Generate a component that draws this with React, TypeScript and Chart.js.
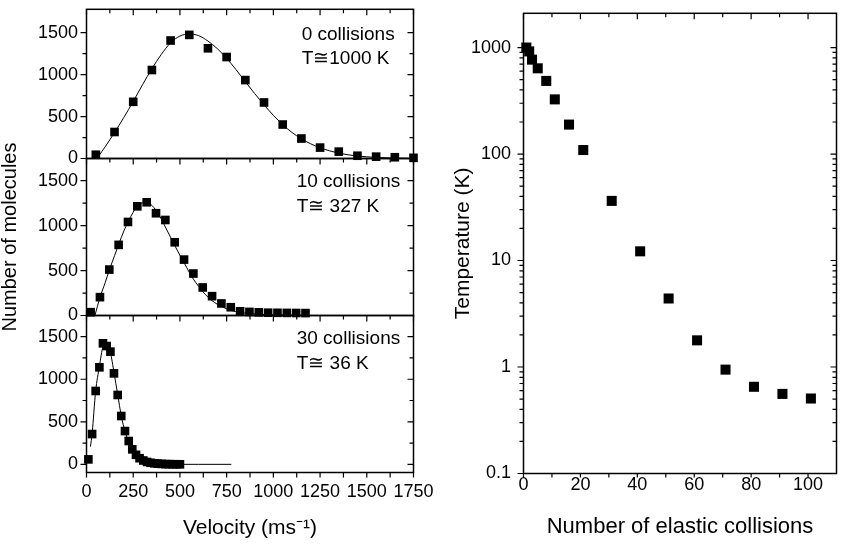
import React, { useEffect, useRef } from 'react';
import { Chart, registerables } from 'chart.js';

Chart.register(...registerables);

const W = 853;
const H = 544;
const OFF = 10;
const FONT = "'Liberation Sans', Arial, Helvetica, sans-serif";

// ---- Top panel: 0 collisions, T ~ 1000 K ----
const topVel = [50, 150, 250, 350, 450, 550, 650, 750, 850, 950, 1050, 1150, 1250, 1350, 1450, 1550, 1650, 1750];
const topCount = [45, 316, 676, 1055, 1407, 1474, 1314, 1210, 935, 668, 405, 238, 130, 82, 33, 22, 15, 8];
const topFitVel = [65, 100, 150, 200, 250, 300, 350, 400, 450, 500, 550, 600, 650, 700, 750, 800, 850, 900, 950, 1000, 1050, 1100, 1150, 1200, 1250, 1300, 1350, 1400, 1450, 1500, 1550, 1650, 1750];
const topFitCount = [30, 140, 310, 490, 680, 880, 1070, 1240, 1380, 1460, 1485, 1465, 1400, 1310, 1195, 1060, 915, 775, 640, 515, 405, 310, 235, 175, 128, 92, 64, 44, 30, 20, 13, 5, 2];

// ---- Middle panel: 10 collisions, T ~ 327 K ----
const midVel = [22, 72, 122, 172, 222, 272, 322, 372, 422, 472, 522, 572, 622, 672, 722, 772, 822, 872, 922, 972, 1022, 1072, 1122, 1172];
const midCount = [37, 204, 511, 786, 1041, 1215, 1260, 1138, 1063, 815, 622, 467, 312, 215, 134, 92, 47, 40, 35, 31, 30, 29, 28, 27];
const midFitVel = [45, 72, 100, 122, 150, 172, 200, 222, 250, 272, 300, 322, 350, 372, 400, 422, 450, 472, 500, 522, 550, 572, 600, 622, 650, 672, 700, 722, 772, 822, 872, 922, 1000, 1100, 1180];
const midFitCount = [0, 200, 365, 505, 665, 790, 940, 1040, 1150, 1215, 1255, 1262, 1225, 1170, 1075, 985, 870, 780, 670, 590, 480, 405, 325, 265, 205, 165, 125, 100, 58, 35, 22, 14, 7, 3, 1];

// ---- Bottom panel: 30 collisions, T ~ 36 K ----
const botVel = [10, 30, 49, 69, 88, 108, 128, 147, 167, 186, 206, 226, 245, 265, 284, 304, 324, 343, 363, 382, 402, 422, 441, 461, 480, 500];
const botCount = [58, 356, 862, 1140, 1422, 1390, 1324, 1069, 815, 568, 391, 274, 176, 112, 72, 45, 28, 18, 12, 8, 5, 3, 2, 1, 1, 0];
const botFitVel = [21, 30, 49, 69, 88, 100, 108, 128, 147, 167, 186, 206, 226, 245, 265, 285, 305, 330, 360, 400, 450, 500, 600, 775];
const botFitCount = [207, 360, 860, 1150, 1385, 1420, 1405, 1315, 1080, 820, 570, 390, 260, 165, 105, 65, 38, 20, 10, 4, 1, 0, 0, 0];

// ---- Right panel: temperature vs number of elastic collisions ----
const collisions = [1, 2, 3, 5, 8, 11, 16, 21, 31, 41, 51, 61, 71, 81, 91, 101];
const temperature = [1000, 920, 770, 638, 486, 326, 189, 109, 36.3, 12.2, 4.4, 1.78, 0.945, 0.652, 0.559, 0.506];

// ---- Tick values ----
const velTicks = [0, 250, 500, 750, 1000, 1250, 1500, 1750];
const velMinor = [125, 375, 625, 875, 1125, 1375, 1625];
const countTicks = [0, 500, 1000, 1500];
const countMinor = [250, 750, 1250];
const collTicks = [0, 20, 40, 60, 80, 100];
const collMinor = [10, 30, 50, 70, 90];
const tempTicks = [0.1, 1, 10, 100, 1000];
const tempMinor = [0.2, 0.3, 0.4, 0.5, 0.6, 0.7, 0.8, 0.9, 2, 3, 4, 5, 6, 7, 8, 9, 20, 30, 40, 50, 60, 70, 80, 90, 200, 300, 400, 500, 600, 700, 800, 900];

const pts = (xs: number[], ys: number[]) => xs.map((x, i) => ({ x, y: ys[i] }));

const framePlugin = {
  id: 'frame',
  afterDatasetsDraw(chart: any, _args: any, opts: any) {
    const { ctx, chartArea: a } = chart;
    const xs = chart.scales.x;
    const ys = chart.scales.y;
    const bl = opts.bottomLen || 5;
    ctx.save();
    ctx.strokeStyle = '#000';
    ctx.lineWidth = 1.2;
    ctx.beginPath();
    const xTick = (vals: number[], len: number, blen: number, bottom: boolean) => {
      for (const v of vals) {
        const p = xs.getPixelForValue(v);
        if (p < a.left - 0.5 || p > a.right + 0.5) continue;
        ctx.moveTo(p, a.top);
        ctx.lineTo(p, a.top + len);
        if (bottom) {
          ctx.moveTo(p, a.bottom);
          ctx.lineTo(p, a.bottom + blen);
        }
      }
    };
    const yTick = (vals: number[], len: number) => {
      for (const v of vals) {
        const p = ys.getPixelForValue(v);
        if (p < a.top - 0.5 || p > a.bottom + 0.5) continue;
        ctx.moveTo(a.left, p);
        ctx.lineTo(a.left - len, p);
        ctx.moveTo(a.right, p);
        ctx.lineTo(a.right - len, p);
      }
    };
    xTick(opts.xMajor || [], 6, bl, !!opts.bottomTicks);
    xTick(opts.xMinor || [], 4, bl, !!opts.bottomTicks);
    yTick(opts.yMajor || [], 6);
    yTick(opts.yMinor || [], 4);
    ctx.stroke();
    ctx.lineWidth = 1.5;
    ctx.strokeRect(a.left, a.top, a.right - a.left, a.bottom - a.top);
    ctx.fillStyle = '#000';
    ctx.font = `19px ${FONT}`;
    ctx.textAlign = 'left';
    ctx.textBaseline = 'alphabetic';
    for (const n of opts.notes || []) {
      ctx.fillText(n.text, a.left + n.dx, a.top + n.dy);
    }
    ctx.restore();
  },
};

interface LeftCfg {
  top: number;
  bottom: number;
  ymin: number;
  ymax: number;
  vel: number[];
  count: number[];
  fitVel: number[];
  fitCount: number[];
  showX: boolean;
  yTitle?: string;
  notes: { text: string; dx: number; dy: number }[];
}

function makeLeft(canvas: HTMLCanvasElement, c: LeftCfg) {
  return new Chart(canvas, {
    type: 'scatter',
    data: {
      datasets: [
        {
          data: pts(c.vel, c.count),
          pointStyle: 'rect',
          pointRadius: 6.1,
          pointBackgroundColor: '#000',
          pointBorderWidth: 0,
          showLine: false,
          clip: false,
        } as any,
        {
          data: pts(c.fitVel, c.fitCount),
          showLine: true,
          pointRadius: 0,
          borderColor: '#000',
          borderWidth: 1,
          cubicInterpolationMode: 'monotone',
          fill: false,
        } as any,
      ],
    },
    options: {
      responsive: false,
      animation: false,
      events: [],
      layout: {
        padding: {
          left: 0,
          right: W - 413.5,
          top: c.top + OFF,
          bottom: c.showX ? 0 : H - c.bottom,
        },
      },
      plugins: {
        legend: { display: false },
        tooltip: { enabled: false },
        frame: {
          xMajor: velTicks,
          xMinor: velMinor,
          yMajor: countTicks,
          yMinor: countMinor,
          bottomTicks: c.showX,
          bottomLen: 5,
          notes: c.notes,
        },
      } as any,
      scales: {
        x: {
          type: 'linear',
          min: 0,
          max: 1750,
          display: c.showX,
          afterBuildTicks: (s: any) => {
            s.ticks = velTicks.map((v) => ({ value: v }));
          },
          afterFit: (s: any) => {
            if (c.showX) s.height = H - c.bottom;
          },
          grid: { display: false, drawTicks: false },
          border: { display: false },
          ticks: {
            padding: 8.7,
            color: '#000',
            font: { size: 18, family: FONT },
            maxRotation: 0,
            autoSkip: false,
            callback: (v: any) => String(v),
          },
          title: {
            display: true,
            text: 'Velocity (ms\u207B\u00B9)',
            color: '#000',
            font: { size: 21, family: FONT, lineHeight: 1 },
            padding: { top: 0, bottom: 5.5 },
          },
        },
        y: {
          type: 'linear',
          min: c.ymin,
          max: c.ymax,
          afterBuildTicks: (s: any) => {
            s.ticks = countTicks.map((v) => ({ value: v }));
          },
          afterFit: (s: any) => {
            s.width = 86.5;
          },
          grid: { display: false, drawTicks: false },
          border: { display: false },
          ticks: {
            padding: 8.5,
            color: '#000',
            font: { size: 18, family: FONT },
            autoSkip: false,
            callback: (v: any) => String(v),
          },
          title: {
            display: !!c.yTitle,
            text: c.yTitle || '',
            color: '#000',
            font: { size: 20, family: FONT, lineHeight: 1 },
            padding: { top: 0, bottom: 0 },
          },
        },
      },
    } as any,
    plugins: [framePlugin as any],
  });
}

function makeRight(canvas: HTMLCanvasElement) {
  return new Chart(canvas, {
    type: 'scatter',
    data: {
      datasets: [
        {
          data: pts(collisions, temperature),
          pointStyle: 'rect',
          pointRadius: 7.1,
          pointBackgroundColor: '#000',
          pointBorderWidth: 0,
          showLine: false,
          clip: false,
        } as any,
      ],
    },
    options: {
      responsive: false,
      animation: false,
      events: [],
      layout: {
        padding: { left: 445, right: W - 836.5, top: OFF - 1, bottom: 0 },
      },
      plugins: {
        legend: { display: false },
        tooltip: { enabled: false },
        frame: {
          xMajor: collTicks,
          xMinor: collMinor,
          yMajor: tempTicks,
          yMinor: tempMinor,
          bottomTicks: true,
          bottomLen: 4,
          notes: [],
        },
      } as any,
      scales: {
        x: {
          type: 'linear',
          min: 0,
          max: 110,
          afterBuildTicks: (s: any) => {
            s.ticks = collTicks.map((v) => ({ value: v }));
          },
          afterFit: (s: any) => {
            s.height = H - 473.5;
          },
          grid: { display: false, drawTicks: false },
          border: { display: false },
          ticks: {
            padding: 1,
            color: '#000',
            font: { size: 18, family: FONT },
            maxRotation: 0,
            autoSkip: false,
            callback: (v: any) => String(v),
          },
          title: {
            display: true,
            text: 'Number of elastic collisions',
            color: '#000',
            font: { size: 22, family: FONT, lineHeight: 1 },
            padding: { top: 0, bottom: 6 },
          },
        },
        y: {
          type: 'logarithmic',
          min: 0.1,
          max: 2097,
          afterBuildTicks: (s: any) => {
            s.ticks = tempTicks.map((v) => ({ value: v }));
          },
          afterFit: (s: any) => {
            s.width = 78.5;
          },
          grid: { display: false, drawTicks: false },
          border: { display: false },
          ticks: {
            padding: 12.5,
            color: '#000',
            font: { size: 18, family: FONT },
            autoSkip: false,
            callback: (v: any) => String(v),
          },
          title: {
            display: true,
            text: 'Temperature (K)',
            color: '#000',
            font: { size: 21, family: FONT, lineHeight: 1 },
            padding: { top: 7.3, bottom: 0 },
          },
        },
      },
    } as any,
    plugins: [framePlugin as any],
  });
}

export default function App() {
  const r1 = useRef<HTMLCanvasElement>(null);
  const r2 = useRef<HTMLCanvasElement>(null);
  const r3 = useRef<HTMLCanvasElement>(null);
  const r4 = useRef<HTMLCanvasElement>(null);

  useEffect(() => {
    Chart.defaults.font.family = FONT;
    Chart.defaults.color = '#000';
    const charts: Chart[] = [];
    charts.push(
      makeLeft(r1.current!, {
        top: -1,
        bottom: 158.5,
        ymin: 0,
        ymax: 1779,
        vel: topVel,
        count: topCount,
        fitVel: topFitVel,
        fitCount: topFitCount,
        showX: false,
        notes: [
          { text: '0 collisions', dx: 215.2, dy: 30.3 },
          { text: 'T\u22451000 K', dx: 215.2, dy: 54.3 },
        ],
      })
    );
    charts.push(
      makeLeft(r2.current!, {
        top: 158.5,
        bottom: 315.5,
        ymin: 0,
        ymax: 1747,
        vel: midVel,
        count: midCount,
        fitVel: midFitVel,
        fitCount: midFitCount,
        showX: false,
        yTitle: 'Number of molecules',
        notes: [
          { text: '10 collisions', dx: 210.2, dy: 28.2 },
          { text: 'T\u2245 327 K', dx: 210.2, dy: 53.2 },
        ],
      })
    );
    charts.push(
      makeLeft(r3.current!, {
        top: 315.5,
        bottom: 472.5,
        ymin: -96,
        ymax: 1749,
        vel: botVel,
        count: botCount,
        fitVel: botFitVel,
        fitCount: botFitCount,
        showX: true,
        notes: [
          { text: '30 collisions', dx: 210.2, dy: 28.8 },
          { text: 'T\u2245 36 K', dx: 210.2, dy: 53.8 },
        ],
      })
    );
    charts.push(makeRight(r4.current!));
    return () => charts.forEach((ch) => ch.destroy());
  }, []);

  const cs: React.CSSProperties = {
    position: 'absolute',
    left: 0,
    top: -OFF,
    width: W,
    height: H + OFF,
  };

  return (
    <div
      style={{
        position: 'fixed',
        left: 0,
        top: 0,
        width: W,
        height: H,
        background: '#fff',
        overflow: 'hidden',
      }}
    >
      <canvas ref={r1} width={W} height={H + OFF} style={cs} />
      <canvas ref={r2} width={W} height={H + OFF} style={cs} />
      <canvas ref={r3} width={W} height={H + OFF} style={cs} />
      <canvas ref={r4} width={W} height={H + OFF} style={cs} />
    </div>
  );
}
